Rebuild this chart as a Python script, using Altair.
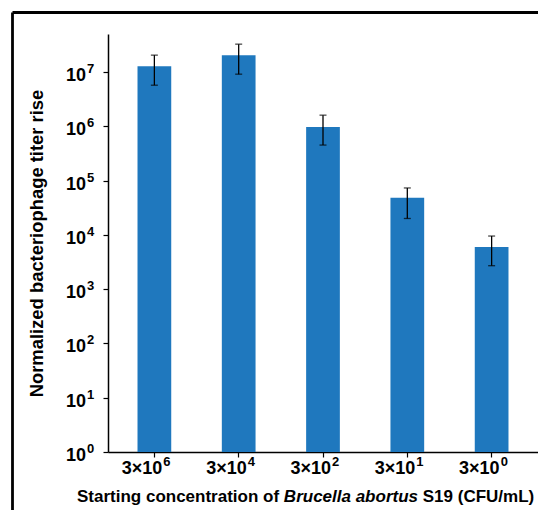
import altair as alt
import pandas as pd

categories = ["3×10⁶", "3×10⁴", "3×10²", "3×10¹", "3×10⁰"]
cat_base = ["3×10", "3×10", "3×10", "3×10", "3×10"]
cat_sup = ["6", "4", "2", "1", "0"]
values = [1.28e7, 2.04e7, 9.7e5, 4.8e4, 5.96e3]
upper = [2.04e7, 3.25e7, 1.6e6, 7.3e4, 9.5e3]
lower = [5.7e6, 9.1e6, 4.5e5, 2.0e4, 2.7e3]
y_ticks = [1, 10, 100, 1000, 10000, 100000, 1000000, 10000000]
y_tick_base = ["10"] * 8
y_tick_sup = ["0", "1", "2", "3", "4", "5", "6", "7"]
x_title_parts = ["Starting concentration of", "Brucella abortus", "S19 (CFU/mL)"]
y_title = "Normalized bacteriophage titer rise"

df = pd.DataFrame({"cat": categories, "val": values, "up": upper, "lo": lower,
                   "lb": cat_base, "ls": cat_sup})
dfy = pd.DataFrame({"v": y_ticks, "b": y_tick_base, "s": y_tick_sup})

FONT = "Liberation Sans"
W, H = 430, 418
PB = 58
PR = 0
BLUE = "#1f78be"

xscale = alt.Scale(domain=categories, paddingInner=0.6, paddingOuter=0.35)
yscale = alt.Scale(type="log", domain=[1, 5e7])

x_enc = alt.X("cat:N", sort=categories, scale=xscale, title=None,
              axis=alt.Axis(labels=False, tickSize=5, tickColor="black",
                            domainColor="black", domainWidth=1.5, tickWidth=1.2,
                            bandPosition=0.5, grid=False))

y_axis = alt.Axis(values=y_ticks, grid=False, tickSize=5, tickColor="black",
                  tickWidth=1.2, domainColor="black", domainWidth=1.5,
                  labels=False,
                  title=y_title, titleFont=FONT, titleFontSize=18.4,
                  titleFontWeight="bold", titleColor="black",
                  titleX=-72, titleY=H / 2, titleAngle=270,
                  titleAlign="center", titleBaseline="middle")

base = alt.Chart(df)
xs = alt.X("cat:N", sort=categories, scale=xscale)

bars = base.mark_bar(color=BLUE).encode(
    x=x_enc,
    y=alt.Y("val:Q", scale=yscale, axis=y_axis),
    y2=alt.datum(1),
)

err = base.mark_rule(color="black", strokeWidth=1.3).encode(
    x=xs, y=alt.Y("lo:Q", scale=yscale), y2="up:Q",
)
cap_hi = base.mark_tick(color="black", thickness=1.3, size=7).encode(
    x=xs, y=alt.Y("up:Q", scale=yscale),
)
cap_lo = base.mark_tick(color="black", thickness=1.3, size=7).encode(
    x=xs, y=alt.Y("lo:Q", scale=yscale),
)

# x tick labels with superscripts
xl_base = base.mark_text(font=FONT, fontSize=18, fontWeight="bold", color="black",
                         align="right", baseline="middle", dx=8).encode(
    x=xs, y=alt.value(H + 17), text="lb:N")
xl_sup = base.mark_text(font=FONT, fontSize=13, fontWeight="bold", color="black",
                        align="left", baseline="middle", dx=9).encode(
    x=xs, y=alt.value(H + 10), text="ls:N")

# y tick labels with superscripts
ybase = alt.Chart(dfy)
yl_base = ybase.mark_text(font=FONT, fontSize=18, fontWeight="bold", color="black",
                          align="right", baseline="middle", dy=4).encode(
    x=alt.value(-22), y=alt.Y("v:Q", scale=yscale), text="b:N")
yl_sup = ybase.mark_text(font=FONT, fontSize=13, fontWeight="bold", color="black",
                         align="left", baseline="middle", dy=-3).encode(
    x=alt.value(-21), y=alt.Y("v:Q", scale=yscale), text="s:N")

one = alt.Chart(pd.DataFrame({"a": [0]}))
frame_top = one.mark_rule(color="black", strokeWidth=2.8).encode(
    x=alt.value(-95.5), x2=alt.value(W + PR), y=alt.value(-21.5))
frame_left = one.mark_rule(color="black", strokeWidth=2.8).encode(
    x=alt.value(-95.5), y=alt.value(-21.5), y2=alt.value(H + PB))

tsize = 17
ty = 463
tx0 = -31
t1 = one.mark_text(text=x_title_parts[0], font=FONT, fontSize=tsize, fontWeight="bold",
                   align="left", baseline="middle", color="black").encode(
    x=alt.value(tx0), y=alt.value(ty))
t2 = one.mark_text(text=x_title_parts[1], font=FONT, fontSize=tsize, fontWeight="bold",
                   fontStyle="italic", align="left", baseline="middle", color="black").encode(
    x=alt.value(tx0 + 12.168 * tsize), y=alt.value(ty))
t3 = one.mark_text(text=x_title_parts[2], font=FONT, fontSize=tsize, fontWeight="bold",
                   align="left", baseline="middle", color="black").encode(
    x=alt.value(tx0 + (12.168 + 8.170) * tsize), y=alt.value(ty))

chart = alt.layer(bars, err, cap_hi, cap_lo, xl_base, xl_sup, yl_base, yl_sup,
                  frame_top, frame_left, t1, t2, t3).properties(
    width=W, height=H,
    background="white",
    autosize=alt.AutoSizeParams(type="none"),
    padding={"left": 100, "top": 26, "right": PR, "bottom": PB},
).configure_view(stroke=None)

chart.save("out.html", embed_options={"renderer": "svg", "actions": False})
